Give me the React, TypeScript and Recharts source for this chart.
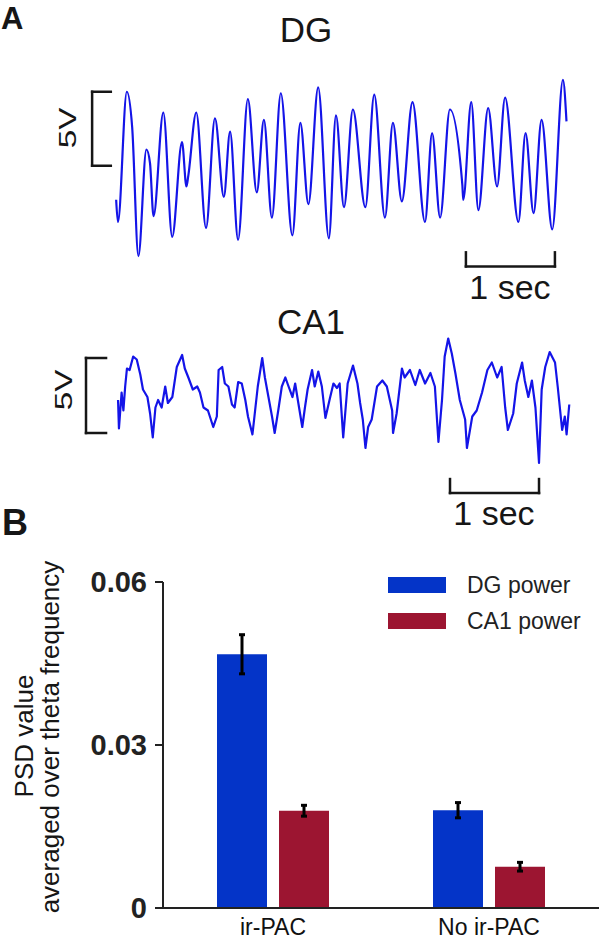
import React from "react";
import {
  LineChart,
  Line,
  XAxis,
  YAxis,
  ReferenceLine,
  BarChart,
  Bar,
  ErrorBar,
  Legend,
} from "recharts";

// DG trace: time (s) and voltage (V)
const dgTime = [
  0.0, 0.02, 0.12, 0.18, 0.25, 0.34, 0.38, 0.42, 0.53, 0.63, 0.74, 0.79, 0.81, 0.9, 1.01,
  1.11, 1.21, 1.28, 1.37, 1.48, 1.58, 1.66, 1.75, 1.85, 1.98, 2.07, 2.16, 2.27, 2.39, 2.47,
  2.56, 2.66, 2.8, 2.9, 3.02, 3.11, 3.21, 3.33, 3.47, 3.55, 3.64, 3.75, 3.89, 3.9, 3.99,
  4.07, 4.18, 4.28, 4.37, 4.52, 4.6, 4.69, 4.78, 4.9, 5.02, 5.06,
];
const dgVolts = [
  -2.3, -3.8, 5.0, 2.6, -6.1, 1.1, 0.2, -3.4, 3.6, -4.8, 1.6, -1.4, -0.7, 3.6, -4.2,
  3.2, -2.1, 2.3, -5.0, 4.5, -1.8, 3.1, -3.5, 4.9, -4.7, 2.9, -2.6, 5.3, -4.9, 3.4,
  -2.8, 3.8, -2.8, 4.8, -3.5, 2.9, -2.4, 4.3, -3.8, 2.2, -3.5, 3.8, -1.3, -2.3, 4.3,
  -3.0, 3.9, -1.4, 4.6, -3.8, 2.2, -3.2, 3.1, -4.3, 5.8, 3.0,
];

// CA1 trace
const ca1Time = [
  0.0, 0.01, 0.04, 0.06, 0.08, 0.1, 0.13, 0.17, 0.21, 0.25,
  0.28, 0.33, 0.36, 0.39, 0.42, 0.45, 0.49, 0.53, 0.56, 0.61,
  0.66, 0.72, 0.75, 0.79, 0.84, 0.89, 0.92, 0.96, 1.01, 1.07,
  1.11, 1.13, 1.17, 1.2, 1.24, 1.28, 1.31, 1.35, 1.39, 1.43,
  1.46, 1.51, 1.54, 1.57, 1.62, 1.65, 1.69, 1.73, 1.76, 1.8,
  1.84, 1.88, 1.91, 1.96, 1.99, 2.02, 2.07, 2.1, 2.13, 2.18,
  2.21, 2.25, 2.29, 2.33, 2.38, 2.42, 2.46, 2.49, 2.53, 2.58,
  2.64, 2.69, 2.72, 2.75, 2.78, 2.81, 2.85, 2.91, 2.97, 3.02,
  3.08, 3.09, 3.13, 3.19, 3.22, 3.28, 3.34, 3.39, 3.45, 3.51,
  3.56, 3.6, 3.64, 3.67, 3.71, 3.75, 3.79, 3.84, 3.9, 3.92,
  3.98, 4.03, 4.09, 4.15, 4.2, 4.26, 4.31, 4.35, 4.38, 4.44,
  4.48, 4.54, 4.57, 4.61, 4.65, 4.69, 4.73, 4.76, 4.8, 4.85,
  4.91, 4.94, 4.99, 5.02, 5.04, 5.07,
];
const ca1Volts = [
  2.2, 0.3, 2.7, 1.5, 3.1, 4.3, 4.2, 5.1, 4.9, 3.9,
  2.9, 2.4, 1.3, -0.3, 1.7, 2.2, 1.7, 3.1, 2.0, 2.4,
  4.4, 5.2, 4.3, 3.7, 2.9, 3.1, 2.7, 1.7, 1.5, 0.4,
  1.1, 4.2, 4.4, 3.3, 3.1, 1.9, 1.7, 3.4, 3.3, 2.2,
  1.1, -0.1, 1.5, 3.1, 5.0, 3.7, 2.4, 1.1, 0.0, 1.5,
  3.1, 3.7, 3.2, 2.4, 3.3, 2.2, 0.4, 1.7, 2.9, 4.2,
  3.1, 4.1, 3.1, 1.0, 2.3, 3.3, 3.0, 3.3, -0.3, 3.3,
  4.5, 3.3, 2.0, 0.9, -1.0, 0.4, 0.9, 3.1, 3.5, 3.1,
  1.5, 0.0, 1.3, 4.3, 3.7, 4.2, 3.2, 4.2, 3.3, 4.0,
  3.1, -0.6, 2.2, 5.1, 6.3, 5.3, 4.0, 2.2, 0.9, -1.0,
  1.1, 1.5, 2.7, 4.2, 4.7, 3.7, 4.4, 1.7, 0.2, 1.3,
  3.3, 4.7, 3.5, 2.4, 3.5, 1.7, -2.0, 2.9, 4.4, 5.4,
  4.7, 3.1, 0.2, 1.1, -0.1, 1.9,
];

// panel B
const groups = ["ir-PAC", "No ir-PAC"];
const dgPower = [0.0467, 0.018];
const dgPowerErr = [0.0036, 0.0014];
const ca1Power = [0.0179, 0.0076];
const ca1PowerErr = [0.001, 0.0008];
const psdTicks = [0, 0.03, 0.06];
const legendOrder = ["dg", "ca1"];

const FONT = "Arial, 'Liberation Sans', Helvetica, sans-serif";
const TRACE_BLUE = "#1414e8";
const DG_BLUE = "#0434c8";
const CA1_RED = "#9c1531";
const INK = "#161616";

interface TraceProps {
  time: number[];
  volts: number[];
  curve: "linear" | "monotone";
  x0: number; // page x of t = 0
  y0: number; // page y of 0 V
  secPx: number;
  voltPx: number;
  tDomain: [number, number];
  vDomain: [number, number];
  bracketT: number;
  bracketEndT: number;
  secBarT: number;
  secBarV: number;
  secTickV: number;
}

function Trace(p: TraceProps) {
  const data = p.time.map((t, i) => ({ t, v: p.volts[i] }));
  const width = (p.tDomain[1] - p.tDomain[0]) * p.secPx;
  const height = (p.vDomain[1] - p.vDomain[0]) * p.voltPx;
  const left = p.x0 + p.tDomain[0] * p.secPx;
  const top = p.y0 - p.vDomain[1] * p.voltPx;
  const scaleLine = {
    stroke: INK,
    strokeWidth: 2.5,
    strokeLinecap: "square" as const,
    ifOverflow: "visible" as const,
  };
  const tEnd = p.secBarT + 1;
  return (
    <div style={{ position: "absolute", left, top }}>
      <LineChart width={width} height={height} data={data} margin={{ top: 0, right: 0, bottom: 0, left: 0 }}>
        <XAxis type="number" dataKey="t" domain={p.tDomain} hide allowDataOverflow />
        <YAxis type="number" domain={p.vDomain} hide allowDataOverflow />
        {/* 5V bracket */}
        <ReferenceLine segment={[{ x: p.bracketT, y: 0 }, { x: p.bracketT, y: 5 }]} {...scaleLine} />
        <ReferenceLine segment={[{ x: p.bracketT, y: 5 }, { x: p.bracketEndT, y: 5 }]} {...scaleLine} />
        <ReferenceLine segment={[{ x: p.bracketT, y: 0 }, { x: p.bracketEndT, y: 0 }]} {...scaleLine} />
        {/* 1 sec bar */}
        <ReferenceLine segment={[{ x: p.secBarT, y: p.secBarV }, { x: tEnd, y: p.secBarV }]} {...scaleLine} />
        <ReferenceLine segment={[{ x: p.secBarT, y: p.secBarV }, { x: p.secBarT, y: p.secBarV + p.secTickV }]} {...scaleLine} />
        <ReferenceLine segment={[{ x: tEnd, y: p.secBarV }, { x: tEnd, y: p.secBarV + p.secTickV }]} {...scaleLine} />
        <Line
          dataKey="v"
          type={p.curve}
          stroke={TRACE_BLUE}
          strokeWidth={2.2}
          strokeLinejoin="round"
          dot={false}
          isAnimationActive={false}
        />
      </LineChart>
    </div>
  );
}

function PowerLegend({ payload }: any) {
  const items = [...(payload ?? [])].sort(
    (a: any, b: any) => legendOrder.indexOf(a.dataKey) - legendOrder.indexOf(b.dataKey)
  );
  return (
    <div style={{ fontFamily: FONT }}>
      {items.map((item: any) => (
        <div key={item.value} style={{ display: "flex", alignItems: "center", height: 36 }}>
          <div style={{ width: 58, height: 16, background: item.color }} />
          <span style={{ marginLeft: 21, fontSize: 23, color: "#222", whiteSpace: "nowrap" }}>{item.value}</span>
        </div>
      ))}
    </div>
  );
}

export default function App() {
  const barData = groups.map((g, i) => ({
    group: g,
    dg: dgPower[i],
    dgErr: dgPowerErr[i],
    ca1: ca1Power[i],
    ca1Err: ca1PowerErr[i],
  }));

  return (
    <div style={{ position: "absolute", left: 0, top: 0, width: 599, height: 942, background: "#fff", overflow: "hidden" }}>
      <Trace
        time={dgTime}
        volts={dgVolts}
        curve="monotone"
        x0={116}
        y0={166}
        secPx={89}
        voltPx={14.8}
        tDomain={[-0.35, 5.1]}
        vDomain={[-7, 6.2]}
        bracketT={-0.27}
        bracketEndT={-0.06}
        secBarT={3.93}
        secBarV={-6.8}
        secTickV={0.95}
      />
      <Trace
        time={ca1Time}
        volts={ca1Volts}
        curve="linear"
        x0={118}
        y0={433}
        secPx={89}
        voltPx={15}
        tDomain={[-0.45, 5.1]}
        vDomain={[-4.3, 6.8]}
        bracketT={-0.36}
        bracketEndT={-0.135}
        secBarT={3.73}
        secBarV={-4.0}
        secTickV={0.93}
      />

      <div style={{ position: "absolute", left: 0, top: 560 }}>
        <BarChart
          width={599}
          height={382}
          data={barData}
          margin={{ top: 22, right: 0, bottom: 0, left: 0 }}
          barGap={12}
        >
          <XAxis
            dataKey="group"
            height={34}
            interval={0}
            tickLine={false}
            axisLine={{ stroke: "#222", strokeWidth: 2 }}
            tick={{ fill: "#111", fontSize: 23, fontFamily: FONT }}
            tickMargin={5}
            padding={{ left: 2, right: 2 }}
          />
          <YAxis
            width={163}
            domain={[0, 0.06]}
            ticks={psdTicks}
            tickFormatter={(v: number) => (v === 0 ? "0" : v.toFixed(2))}
            tick={{ fill: "#222", fontSize: 29, fontWeight: 700, fontFamily: FONT }}
            tickSize={8}
            tickMargin={8}
            axisLine={{ stroke: "#222", strokeWidth: 2 }}
            tickLine={{ stroke: "#222", strokeWidth: 2 }}
          />
          <Legend
            layout="vertical"
            align="center"
            verticalAlign="middle"
            wrapperStyle={{ left: 388, top: 7, width: 200 }}
            content={<PowerLegend />}
          />
          <Bar dataKey="dg" name="DG power" fill={DG_BLUE} barSize={50} isAnimationActive={false}>
            <ErrorBar dataKey="dgErr" width={3} strokeWidth={3} stroke="#000" isAnimationActive={false} />
          </Bar>
          <Bar dataKey="ca1" name="CA1 power" fill={CA1_RED} barSize={50} isAnimationActive={false}>
            <ErrorBar dataKey="ca1Err" width={3} strokeWidth={3} stroke="#000" isAnimationActive={false} />
          </Bar>
        </BarChart>
      </div>

      <svg
        width={599}
        height={942}
        style={{ position: "absolute", left: 0, top: 0, pointerEvents: "none" }}
        fontFamily={FONT}
        fill={INK}
      >
        <text x={1} y={29} fontSize={31} fontWeight={700}>A</text>
        <text x={306} y={42} fontSize={35} textAnchor="middle">DG</text>
        <text transform="translate(76,128) rotate(-90) scale(1.45,1)" fontSize={23} textAnchor="middle">5V</text>
        <text x={510} y={299} fontSize={34} textAnchor="middle">1 sec</text>

        <text x={311} y={334} fontSize={35} textAnchor="middle">CA1</text>
        <text transform="translate(72,390) rotate(-90) scale(1.45,1)" fontSize={23} textAnchor="middle">5V</text>
        <text x={494} y={525} fontSize={34} textAnchor="middle">1 sec</text>

        <text x={2} y={535} fontSize={36} fontWeight={700}>B</text>
        <text transform="translate(33,736) rotate(-90)" fontSize={26} textAnchor="middle">PSD value</text>
        <text transform="translate(59,737) rotate(-90)" fontSize={26} textAnchor="middle">
          averaged over theta frequency
        </text>
      </svg>
    </div>
  );
}
